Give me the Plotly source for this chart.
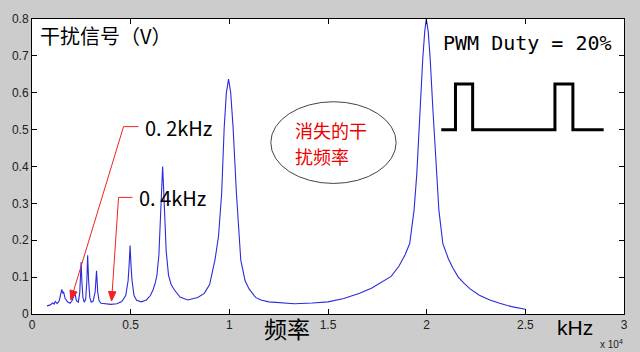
import math
import plotly.graph_objects as go

# Spectrum (x in units of 1e4 Hz, y in V)
spec_x = [0.076, 0.090, 0.105, 0.112, 0.118, 0.128, 0.138, 0.145, 0.151, 0.156, 0.160, 0.168, 0.180, 0.193,
          0.205, 0.212, 0.218, 0.225, 0.235, 0.242, 0.246, 0.249, 0.253, 0.258, 0.265, 0.272, 0.278, 0.282,
          0.287, 0.293, 0.300, 0.310, 0.320, 0.327, 0.333, 0.340, 0.350, 0.370, 0.400, 0.430, 0.455, 0.475,
          0.487, 0.493, 0.497, 0.502, 0.507, 0.517, 0.530, 0.554, 0.580, 0.600, 0.613, 0.625, 0.633, 0.643,
          0.651, 0.657, 0.662, 0.667, 0.672, 0.680, 0.692, 0.705, 0.722, 0.750, 0.789, 0.840, 0.873, 0.900,
          0.927, 0.945, 0.961, 0.974, 0.985, 0.996, 1.007, 1.019, 1.036, 1.047, 1.058, 1.080, 1.100, 1.133,
          1.160, 1.200, 1.260, 1.330, 1.420, 1.500, 1.580, 1.660, 1.720, 1.780, 1.820, 1.860, 1.890, 1.914,
          1.936, 1.950, 1.965, 1.980, 1.990, 1.998, 2.008, 2.018, 2.032, 2.047, 2.062, 2.082, 2.110, 2.133,
          2.160, 2.190, 2.220, 2.267, 2.320, 2.370, 2.430, 2.500]
spec_y = [0.022, 0.024, 0.030, 0.027, 0.034, 0.028, 0.036, 0.052, 0.067, 0.056, 0.060, 0.042, 0.033, 0.029,
          0.038, 0.050, 0.055, 0.036, 0.032, 0.058, 0.100, 0.141, 0.085, 0.045, 0.032, 0.040, 0.090, 0.159,
          0.090, 0.045, 0.032, 0.035, 0.060, 0.117, 0.060, 0.036, 0.029, 0.027, 0.026, 0.028, 0.034, 0.050,
          0.090, 0.140, 0.186, 0.130, 0.090, 0.050, 0.037, 0.033, 0.038, 0.050, 0.065, 0.085, 0.105, 0.160,
          0.263, 0.340, 0.400, 0.340, 0.263, 0.170, 0.105, 0.080, 0.065, 0.046, 0.038, 0.045, 0.056, 0.080,
          0.146, 0.210, 0.326, 0.506, 0.600, 0.637, 0.600, 0.506, 0.326, 0.220, 0.146, 0.090, 0.068, 0.045,
          0.038, 0.033, 0.030, 0.028, 0.030, 0.033, 0.042, 0.056, 0.070, 0.088, 0.102, 0.130, 0.160, 0.191,
          0.281, 0.380, 0.551, 0.690, 0.765, 0.800, 0.765, 0.690, 0.551, 0.400, 0.281, 0.191, 0.150, 0.125,
          0.100, 0.083, 0.068, 0.051, 0.038, 0.029, 0.020, 0.013]

# PWM waveform sketch (drawn in axis units)
pwm_x = [2.074, 2.146, 2.146, 2.233, 2.233, 2.650, 2.650, 2.741, 2.741, 2.897]
pwm_y = [0.500, 0.500, 0.624, 0.624, 0.500, 0.500, 0.624, 0.624, 0.500, 0.500]

x_tickvals = [0, 0.5, 1, 1.5, 2, 2.5, 3]
x_ticktext = ["0", "0.5", "1", "1.5", "2", "2.5", "3"]
y_tickvals = [0, 0.1, 0.2, 0.3, 0.4, 0.5, 0.6, 0.7, 0.8]
y_ticktext = ["0", "0.1", "0.2", "0.3", "0.4", "0.5", "0.6", "0.7", "0.8"]

W, H = 640, 352
L, R, T, B = 30, 15, 18, 38
PW, PH = W - L - R, H - T - B


def px(x):
    return (x - L) / PW


def py(y):
    return (H - B - y) / PH


CJK = "Noto Sans CJK SC"
RED = "#ee2222"

fig = go.Figure()
fig.add_trace(go.Scatter(x=spec_x, y=spec_y, mode="lines",
                         line=dict(color="#2b2bdd", width=1.1), hoverinfo="skip"))
fig.add_trace(go.Scatter(x=pwm_x, y=pwm_y, mode="lines",
                         line=dict(color="black", width=3), hoverinfo="skip"))

axis_common = dict(showline=True, linecolor="black", linewidth=1, mirror="ticks",
                   ticks="inside", ticklen=5, tickcolor="black", tickwidth=1,
                   showgrid=False, zeroline=False,
                   tickfont=dict(family="Liberation Sans, Arial", size=12, color="#222"))
fig.update_xaxes(range=[0, 3], tickvals=x_tickvals, ticktext=x_ticktext, **axis_common)
fig.update_yaxes(range=[0, 0.8], tickvals=y_tickvals, ticktext=y_ticktext, **axis_common)


def label(text, x, y, size, family=CJK, color="black", xanchor="left"):
    return dict(text=text, xref="paper", yref="paper", x=px(x), y=py(y),
                xanchor=xanchor, yanchor="middle", showarrow=False,
                font=dict(family=family, size=size, color=color))


ann = [
    label("干扰信号（V）", 36, 35, 20),
    label("PWM Duty = 20%", 441, 42, 20, family="DejaVu Sans Mono"),
    label("0. 2kHz", 142, 127, 20),
    label("0. 4kHz", 136, 197, 20),
    label("消失的干", 292, 129, 18, color="#ee0000"),
    label("扰频率", 292, 155, 18, color="#ee0000"),
    label("频率", 286, 328, 23, xanchor="center"),
    label("kHz", 576, 328, 21, family="Liberation Sans, Arial", xanchor="center"),
    label("x 10<sup>4</sup>", 626, 344, 10, family="Liberation Sans, Arial", color="#222", xanchor="right"),
]


def arrow_shapes(corner, tail, tip, head_len=9.5, head_w=7.5):
    dx, dy = tip[0] - tail[0], tip[1] - tail[1]
    n = math.hypot(dx, dy)
    ux, uy = dx / n, dy / n
    bx, by = tip[0] - head_len * ux, tip[1] - head_len * uy
    qx, qy = -uy, ux
    c1 = (bx + head_w / 2 * qx, by + head_w / 2 * qy)
    c2 = (bx - head_w / 2 * qx, by - head_w / 2 * qy)
    path = "M {} {} L {} {} L {} {} L {} {} Z".format(
        px(tip[0]), py(tip[1]), px(c1[0]), py(c1[1]), px(c2[0]), py(c2[1]), px(tip[0]), py(tip[1]))
    return [
        dict(type="line", xref="paper", yref="paper", x0=px(corner[0]), y0=py(corner[1]),
             x1=px(tail[0]), y1=py(tail[1]), line=dict(color=RED, width=1)),
        dict(type="line", xref="paper", yref="paper", x0=px(tail[0]), y0=py(tail[1]),
             x1=px(bx), y1=py(by), line=dict(color=RED, width=1)),
        dict(type="path", xref="paper", yref="paper", path=path, fillcolor=RED,
             line=dict(color=RED, width=1)),
    ]


shapes = []
shapes += arrow_shapes((137, 126), (122, 126), (69, 300))
shapes += arrow_shapes((131, 197), (117, 197), (110, 301))
shapes.append(dict(type="circle", xref="paper", yref="paper", x0=px(270), x1=px(396),
                   y0=py(183), y1=py(101), line=dict(color="#444444", width=1)))

fig.update_layout(width=W, height=H, margin=dict(l=L, r=R, t=T, b=B),
                  paper_bgcolor="#cccccc", plot_bgcolor="white", showlegend=False,
                  annotations=ann, shapes=shapes)

fig.write_html("out.html")
